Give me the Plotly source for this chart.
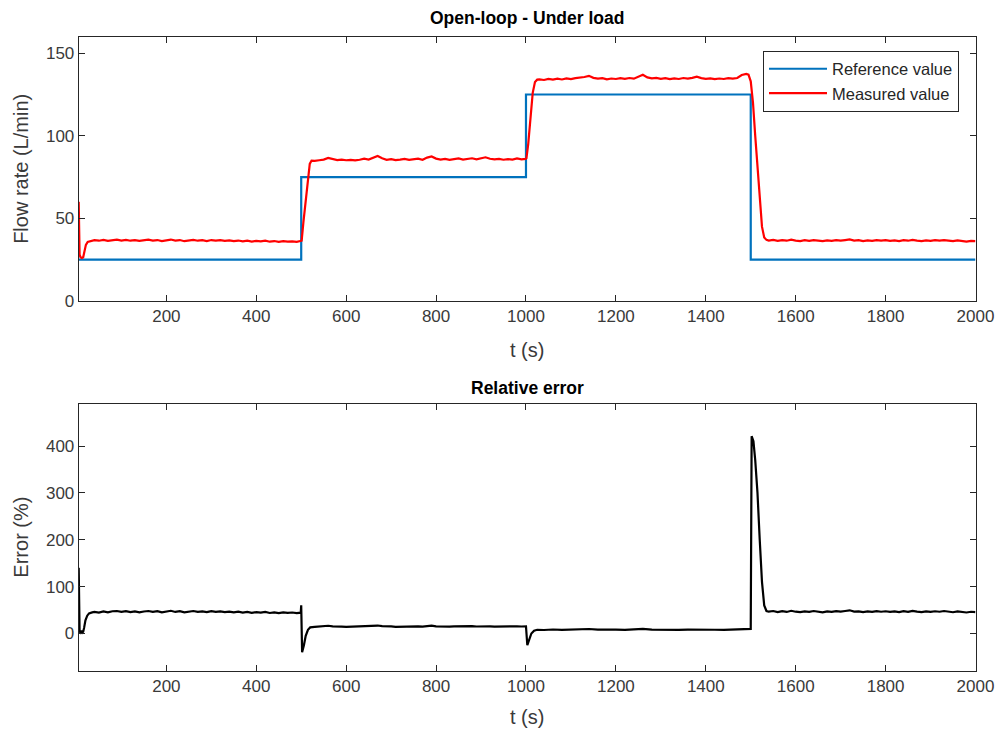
import plotly.graph_objects as go
from plotly.subplots import make_subplots

# ---------------- data ----------------
t_ref = [5, 500, 500, 1000, 1000, 1500, 1500, 2000]
flow_ref = [25, 25, 75, 75, 125, 125, 25, 25]

t_meas = [5, 7, 9, 12, 15, 18, 21, 25,
          30, 40, 50, 60, 70, 80, 90, 100, 110, 120, 130, 140, 150, 160, 170, 180, 190,
          200, 210, 220, 230, 240, 250, 260, 270, 280, 290, 300, 310, 320, 330, 340, 350,
          360, 370, 380, 390, 400, 410, 420, 430, 440, 450, 460, 470, 480, 490, 499,
          501, 505, 510, 515, 519, 523,
          530, 540, 550, 560, 570, 580, 590, 600, 610, 620, 630, 640, 650, 660, 670, 680,
          690, 700, 710, 720, 730, 740, 750, 760, 770, 780, 790, 800, 810, 820, 830, 840,
          850, 860, 870, 880, 890, 900, 910, 920, 930, 940, 950, 960, 970, 980, 990, 999,
          1001, 1005, 1010, 1015, 1020, 1025,
          1030, 1040, 1050, 1060, 1070, 1080, 1090, 1100, 1110, 1120, 1130, 1140, 1150,
          1160, 1170, 1180, 1190, 1200, 1210, 1220, 1230, 1240, 1250, 1260, 1270, 1280,
          1290, 1300, 1310, 1320, 1330, 1340, 1350, 1360, 1370, 1380, 1390, 1400, 1410,
          1420, 1430, 1440, 1450, 1460, 1470, 1480, 1490, 1495,
          1500, 1505, 1510, 1515, 1520, 1525, 1530, 1535,
          1540, 1550, 1560, 1570, 1580, 1590, 1600, 1610, 1620, 1630, 1640, 1650, 1660,
          1670, 1680, 1690, 1700, 1710, 1720, 1730, 1740, 1750, 1760, 1770, 1780, 1790,
          1800, 1810, 1820, 1830, 1840, 1850, 1860, 1870, 1880, 1890, 1900, 1910, 1920,
          1930, 1940, 1950, 1960, 1970, 1980, 1990, 2000]
flow_meas = [60, 28, 26.5, 26, 26.5, 30, 34, 35.8,
             36.2, 36.8, 36.5, 37.0, 36.4, 36.9, 37.1, 36.6, 37.0, 36.5, 36.9, 36.4, 36.8, 37.1, 36.6, 36.9, 36.3,
             36.8, 37.2, 36.6, 36.9, 36.2, 36.7, 37.0, 36.5, 36.8, 36.3, 36.9, 36.5, 36.8, 36.4, 36.7, 36.2,
             36.6, 36.1, 36.5, 36.0, 36.4, 36.1, 36.5, 35.9, 36.3, 35.8, 36.2, 35.9, 36.1, 35.8, 36.0,
             36.5, 48, 62, 75, 83, 85,
             84.8, 85.2, 85.6, 86.6, 85.8, 85.3, 85.6, 85.2, 85.4, 85.1, 85.5, 86.2, 85.6, 86.5, 87.8, 86.4,
             85.5, 85.9, 85.3, 85.6, 86.0, 85.4, 85.7, 86.2, 85.5, 86.8, 87.5, 86.2, 85.6, 86.0, 85.4, 85.8,
             86.3, 85.6, 85.9, 86.4, 85.8, 86.2, 87.0, 86.1, 85.7, 86.0, 85.5, 85.9, 85.6, 86.3, 85.8, 86.0,
             86.5, 95, 112, 126, 132.5, 134,
             134.2, 133.8, 134.5, 134.0, 134.6, 134.1, 134.8, 134.3, 134.9, 135.2, 135.6, 136.3, 135.1,
             134.6, 134.9, 134.2, 134.7, 134.4, 134.9, 134.5, 135.0, 134.6, 135.8, 137.0, 135.4, 134.8,
             135.1, 134.5, 134.9, 134.3, 134.8, 134.4, 135.0, 134.6, 135.1, 135.8, 134.9, 134.5, 134.8,
             134.3, 134.7, 134.4, 134.9, 134.6, 135.0, 136.8, 137.5, 137.0,
             133, 120, 100, 80, 60, 45, 38.5, 37,
             36.6, 37.0, 36.4, 36.9, 36.5, 37.1, 36.6, 36.3, 36.8, 36.4, 36.9, 36.5, 36.2,
             36.7, 36.4, 36.8, 36.5, 36.9, 37.3, 36.6, 36.8, 36.3, 36.7, 36.4, 36.9, 36.5,
             36.8, 36.4, 36.7, 36.3, 36.8, 36.5, 37.0, 36.6, 36.3, 36.7, 36.4, 36.8, 36.5,
             36.9, 36.6, 36.2, 36.7, 36.4, 36.0, 36.4, 36.2]

t_err = [5, 6, 7, 9, 11, 13, 15, 17, 20, 24, 28,
         35, 40, 50, 60, 70, 80, 90, 100, 110, 120, 130, 140, 150, 160, 170, 180, 190,
         200, 210, 220, 230, 240, 250, 260, 270, 280, 290, 300, 310, 320, 330, 340, 350,
         360, 370, 380, 390, 400, 410, 420, 430, 440, 450, 460, 470, 480, 490, 499,
         500, 502, 506, 510, 515, 520,
         530, 540, 550, 560, 570, 580, 590, 600, 610, 620, 630, 640, 650, 660, 670, 680,
         690, 700, 710, 720, 730, 740, 750, 760, 770, 780, 790, 800, 810, 820, 830, 840,
         850, 860, 870, 880, 890, 900, 910, 920, 930, 940, 950, 960, 970, 980, 990, 999,
         1000, 1003, 1007, 1012, 1018, 1025,
         1040, 1060, 1080, 1100, 1120, 1140, 1160, 1180, 1200, 1220, 1240, 1260, 1280,
         1300, 1320, 1340, 1360, 1380, 1400, 1420, 1440, 1460, 1480, 1498,
         1500, 1502, 1506, 1510, 1515, 1520, 1525, 1530, 1535,
         1540, 1550, 1560, 1570, 1580, 1590, 1600, 1610, 1620, 1630, 1640, 1650, 1660,
         1670, 1680, 1690, 1700, 1710, 1720, 1730, 1740, 1750, 1760, 1770, 1780, 1790,
         1800, 1810, 1820, 1830, 1840, 1850, 1860, 1870, 1880, 1890, 1900, 1910, 1920,
         1930, 1940, 1950, 1960, 1970, 1980, 1990, 2000]
err_pct = [140, 60, 4, 2, 6, 2, 4, 12, 28, 38, 43,
           45, 46, 44.5, 47, 45, 47.5, 48, 46, 47.5, 45.5, 47, 45, 47, 48, 46, 47.5, 45,
           47, 48.5, 46, 47.5, 45, 47, 48, 46, 47, 45.5, 47.5, 46, 47, 45.5, 46.8, 45,
           46.5, 44.5, 46, 44, 45.5, 44.5, 46, 43.8, 45.2, 43.5, 45, 44, 44.8, 43.6, 44.5,
           60, -40, -25, -5, 8, 13,
           14, 14.5, 15, 16.5, 15.2, 14.3, 14.8, 14.2, 14.6, 14, 14.7, 15.5, 14.8, 15.8, 17.0, 15.6,
           14.6, 15.0, 14.3, 14.8, 15.2, 14.5, 14.9, 15.4, 14.6, 16.0, 16.8, 15.4, 14.7, 15.1, 14.5, 15.0,
           15.5, 14.8, 15.1, 15.6, 14.9, 15.3, 16.2, 15.2, 14.8, 15.1, 14.6, 15.0, 14.7, 15.4, 14.9, 15.0,
           15, -25, -15, 0, 6, 8,
           7.5, 8.5, 7.8, 8.2, 8.8, 9.6, 8.4, 7.6, 8.2, 7.8, 8.5, 9.8, 8.2,
           7.6, 8.1, 7.8, 8.4, 8.8, 7.7, 8.0, 7.6, 8.2, 8.6, 9.5,
           10, 421, 410, 370, 300, 200, 110, 60, 48,
           46.5, 48, 45.5, 47.5, 46, 48.5, 46.5, 45.5, 47.2, 46, 48, 46.5, 45,
           47, 46, 47.8, 46.5, 48, 49.5, 46.8, 47.2, 45.6, 47, 46, 47.8, 46.4,
           47.5, 46, 47, 45.5, 47.6, 46.2, 48.4, 46.8, 45.6, 47, 46, 47.5, 46.4,
           48, 46.8, 45.4, 47, 46.2, 44.8, 46.4, 45.5]

x_ticks = [200, 400, 600, 800, 1000, 1200, 1400, 1600, 1800, 2000]
flow_ticks = [0, 50, 100, 150]
err_ticks = [0, 100, 200, 300, 400]

# ---------------- figure ----------------
W, H = 1000, 735
FONT = "Liberation Sans, Arial, Helvetica, sans-serif"
AX = "#262626"
TXT = "#3a3a3a"

fig = make_subplots(rows=2, cols=1)

fig.add_trace(go.Scatter(x=t_ref, y=flow_ref, mode="lines", name="Reference value",
                         line=dict(color="#0072BD", width=2.2)), row=1, col=1)
fig.add_trace(go.Scatter(x=t_meas, y=flow_meas, mode="lines", name="Measured value",
                         line=dict(color="#FF0000", width=2.2)), row=1, col=1)
fig.add_trace(go.Scatter(x=t_err, y=err_pct, mode="lines", name="Relative error",
                         showlegend=False, line=dict(color="#000000", width=2.2)), row=2, col=1)

x0, x1 = 78.7, 975.5
top = (36.7, 301.0)
bot = (404.3, 671.0)

axis_common = dict(showline=True, linecolor=AX, linewidth=1, mirror="ticks",
                   ticks="inside", ticklen=6, tickwidth=1, tickcolor=AX,
                   showgrid=False, zeroline=False, automargin=False,
                   tickfont=dict(family=FONT, size=17, color=TXT))

fig.update_layout(
    width=W, height=H,
    margin=dict(l=0, r=0, t=0, b=0, pad=0, autoexpand=False),
    paper_bgcolor="white", plot_bgcolor="white",
    font=dict(family=FONT, color=TXT),
    xaxis=dict(domain=[x0 / W, x1 / W], range=[5, 2000], tickvals=x_ticks, **axis_common),
    xaxis2=dict(domain=[x0 / W, x1 / W], range=[5, 2000], tickvals=x_ticks, **axis_common),
    yaxis=dict(domain=[1 - top[1] / H, 1 - top[0] / H], range=[0, 160], tickvals=flow_ticks, **axis_common),
    yaxis2=dict(domain=[1 - bot[1] / H, 1 - bot[0] / H], range=[-80, 489], tickvals=err_ticks, **axis_common),
    legend=dict(x=763 / W, y=1 - 50.5 / H, xanchor="left", yanchor="top",
                bgcolor="white", bordercolor=AX, borderwidth=1,
                font=dict(family=FONT, size=16.5, color="#262626"),
                tracegroupgap=0, itemwidth=58),
    showlegend=True,
)

cx = (x0 + x1) / 2 / W
ann = [
    dict(text="<b>Open-loop - Under load</b>", x=cx, y=1 - 18 / H, font=dict(size=17.5, color="#000")),
    dict(text="<b>Relative error</b>", x=cx, y=1 - 388 / H, font=dict(size=17.5, color="#000")),
    dict(text="t (s)", x=cx, y=1 - 350 / H, font=dict(size=20, color=TXT)),
    dict(text="t (s)", x=cx, y=1 - 717 / H, font=dict(size=20, color=TXT)),
    dict(text="Flow rate (L/min)", x=21 / W, y=1 - ((top[0] + top[1]) / 2) / H, textangle=-90,
         font=dict(size=20, color=TXT)),
    dict(text="Error (%)", x=21 / W, y=1 - ((bot[0] + bot[1]) / 2) / H, textangle=-90,
         font=dict(size=20, color=TXT)),
]
for a in ann:
    a.update(xref="paper", yref="paper", showarrow=False, xanchor="center", yanchor="middle")
    a["font"]["family"] = FONT
fig.update_layout(annotations=ann)

fig.write_html("out.html")
